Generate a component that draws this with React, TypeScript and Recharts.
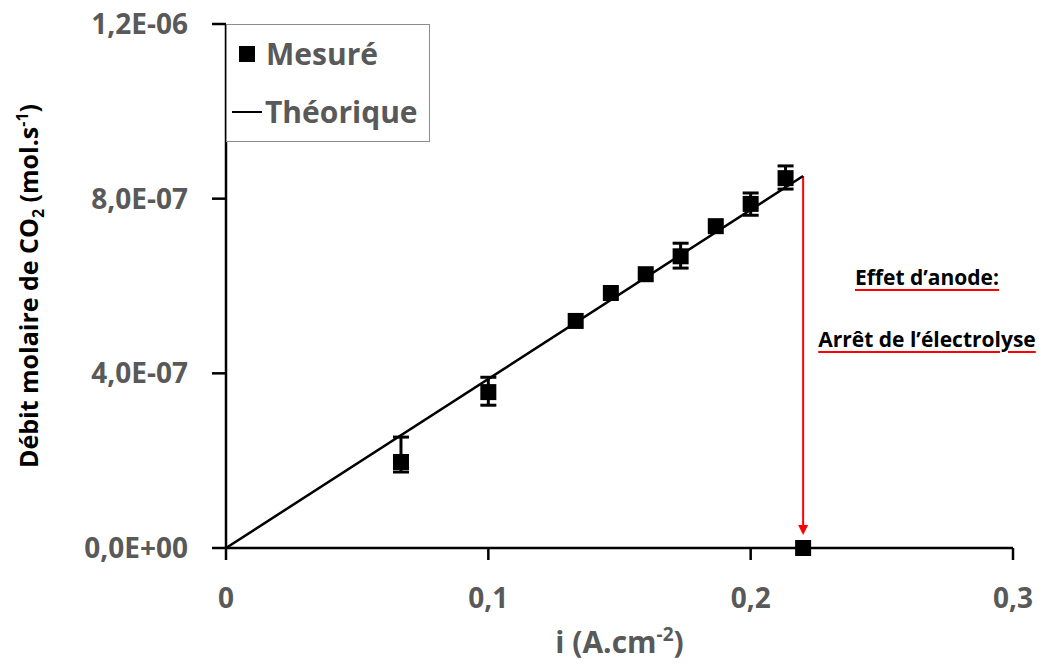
import React from "react";
import {
  ComposedChart,
  Scatter,
  ErrorBar,
  XAxis,
  YAxis,
  Label,
  Legend,
  ReferenceLine
} from "recharts";

// measured points: current density (A/cm2), CO2 molar flow (mol/s), error [low, high]
const currentDensity = [0.0667, 0.1, 0.1333, 0.1467, 0.16, 0.1733, 0.1867, 0.2, 0.2133, 0.22];
const molarFlow = [1.97e-7, 3.57e-7, 5.2e-7, 5.84e-7, 6.27e-7, 6.68e-7, 7.37e-7, 7.88e-7, 8.47e-7, 0];
const flowError = [
  [0.23e-7, 0.57e-7],
  [0.3e-7, 0.34e-7],
  0,
  0,
  0,
  [0.27e-7, 0.3e-7],
  0,
  [0.26e-7, 0.25e-7],
  [0.25e-7, 0.28e-7],
  0
];

// theoretical line (start, end)
const theoX = [0, 0.22];
const theoY = [0, 8.52e-7];

// anode effect arrow
const arrowX = 0.22;
const arrowFrom = 8.52e-7;
const arrowTo = 0.3e-7;

const xTicks = [0, 0.1, 0.2, 0.3];
const yTicks = [0, 4e-7, 8e-7, 1.2e-6];

const measured = currentDensity.map((x, i) => ({ x, y: molarFlow[i], err: flowError[i] }));
const theoretical = theoX.map((x, i) => ({ x, y: theoY[i] }));

const FONT = "'Open Sans', sans-serif";
const GREY = "#595959";

const fmtX = (v: number) => String(v).replace(".", ",");
const fmtY = (v: number) => {
  const [m, e] = v.toExponential(1).split("e");
  const sign = e[0] === "-" ? "-" : "+";
  const digits = e.replace(/[+-]/, "").padStart(2, "0");
  return `${m.replace(".", ",")}E${sign}${digits}`;
};

const SquareDot = (p: any) => (
  <rect x={p.cx - 8} y={p.cy - 8} width={16} height={16} fill="#000" />
);

const NoDot = () => <g />;

const Arrow = (p: any) => {
  const { x1, y1, x2, y2 } = p;
  return (
    <g>
      <line x1={x1} y1={y1} x2={x2} y2={y2 - 8} stroke="#ff0000" strokeWidth={2} />
      <polygon points={`${x2 - 5},${y2 - 10} ${x2 + 5},${y2 - 10} ${x2},${y2}`} fill="#ff0000" />
    </g>
  );
};

const YTitle = (p: any) => {
  const vb = p.viewBox;
  const cy = vb.y + vb.height / 2;
  return (
    <text
      transform={`translate(38, ${cy}) rotate(-90)`}
      textAnchor="middle"
      fontFamily={FONT}
      fontWeight={700}
      fontSize={25}
      fill="#000"
    >
      Débit molaire de CO
      <tspan fontSize={16} dy={6}>2</tspan>
      <tspan dy={-6}> (mol.s</tspan>
      <tspan fontSize={16} dy={-10}>-1</tspan>
      <tspan dy={10}>)</tspan>
    </text>
  );
};

const XTitle = (p: any) => {
  const vb = p.viewBox;
  const cx = vb.x + vb.width / 2;
  return (
    <text x={cx} y={653} textAnchor="middle" fontFamily={FONT} fontWeight={700} fontSize={30} fill={GREY}>
      i (A.cm
      <tspan fontSize={19} dy={-12}>-2</tspan>
      <tspan dy={12}>)</tspan>
    </text>
  );
};

const LegendBox = () => (
  <div style={{ fontFamily: FONT, fontWeight: 700, fontSize: 30, color: GREY, lineHeight: "30px" }}>
    <div style={{ position: "absolute", left: 12, top: 14, display: "flex", alignItems: "center" }}>
      <span style={{ display: "inline-block", width: 16, height: 16, background: "#000", marginRight: 11 }} />
      Mesuré
    </div>
    <div style={{ position: "absolute", left: 5, top: 72, display: "flex", alignItems: "center" }}>
      <span style={{ display: "inline-block", width: 30, height: 2, background: "#000", marginRight: 3 }} />
      Théorique
    </div>
  </div>
);

const noteStyle: React.CSSProperties = {
  position: "absolute",
  left: 815,
  width: 224,
  textAlign: "center",
  fontFamily: FONT,
  fontWeight: 700,
  fontSize: 21,
  lineHeight: "21px",
  color: "#000",
  textDecoration: "underline",
  textDecorationColor: "#ff0000",
  textDecorationThickness: 2,
  textUnderlineOffset: 4
};

export default function App() {
  return (
    <div style={{ position: "absolute", left: 0, top: 0, width: 1043, height: 666, background: "#fff" }}>
      <ComposedChart width={1043} height={666} margin={{ top: 24, right: 30, bottom: 0, left: 0 }}>
        <XAxis
          type="number"
          dataKey="x"
          domain={[0, 0.3]}
          ticks={xTicks}
          tickFormatter={fmtX}
          height={118}
          axisLine={{ stroke: "#000", strokeWidth: 2.5 }}
          tickLine={{ stroke: "#000", strokeWidth: 2.5 }}
          tickSize={12}
          tickMargin={28}
          tick={{ fill: GREY, fontSize: 28, fontWeight: 700, fontFamily: FONT }}
        >
          <Label content={XTitle} />
        </XAxis>
        <YAxis
          type="number"
          dataKey="y"
          domain={[0, 1.2e-6]}
          ticks={yTicks}
          tickFormatter={fmtY}
          width={226}
          axisLine={{ stroke: "#000", strokeWidth: 2.5 }}
          tickLine={{ stroke: "#000", strokeWidth: 2.5 }}
          tickSize={14}
          tickMargin={24}
          tick={{ fill: GREY, fontSize: 28, fontWeight: 700, fontFamily: FONT }}
        >
          <Label content={YTitle} />
        </YAxis>
        <Legend
          layout="vertical"
          align="center"
          verticalAlign="middle"
          content={LegendBox}
          wrapperStyle={{
            left: 226,
            top: 24,
            width: 204,
            height: 118,
            border: "1px solid #8c8c8c",
            background: "#fff",
            boxSizing: "border-box"
          }}
        />
        <Scatter
          name="Théorique"
          data={theoretical}
          shape={NoDot}
          line={{ stroke: "#000", strokeWidth: 2.5 }}
          lineType="joint"
          legendType="line"
          isAnimationActive={false}
        />
        <ReferenceLine
          segment={[
            { x: arrowX, y: arrowFrom },
            { x: arrowX, y: arrowTo }
          ]}
          shape={Arrow}
          ifOverflow="visible"
        />
        <Scatter name="Mesuré" data={measured} shape={SquareDot} legendType="square" isAnimationActive={false}>
          <ErrorBar dataKey="err" direction="y" width={8} stroke="#000" strokeWidth={3} isAnimationActive={false} />
        </Scatter>
      </ComposedChart>
      <div style={{ ...noteStyle, top: 267 }}>Effet d’anode:</div>
      <div style={{ ...noteStyle, top: 329 }}>Arrêt de l’électrolyse</div>
    </div>
  );
}
